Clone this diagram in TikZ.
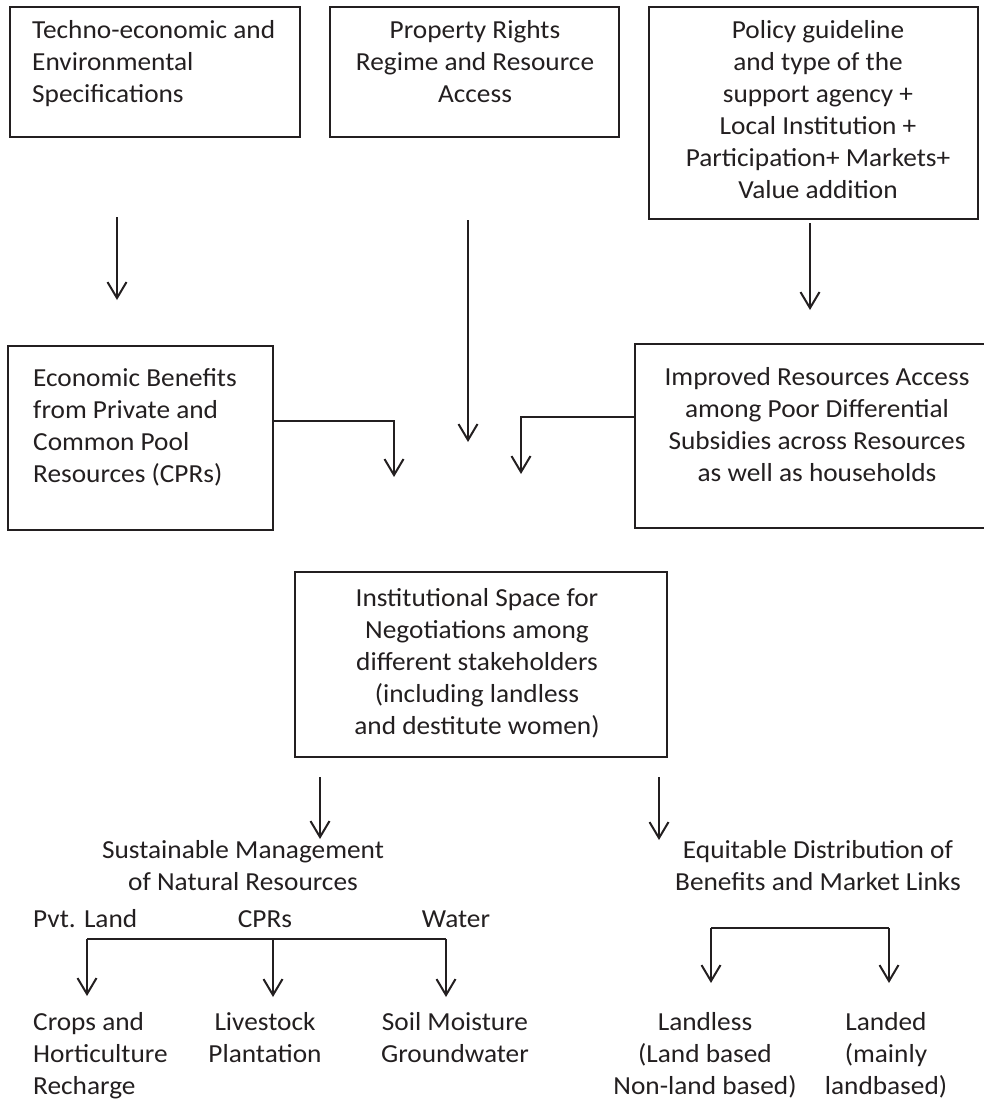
\documentclass[tikz,border=0pt]{standalone}
\usepackage{fontspec}
\setmainfont{Carlito}[FakeStretch=1.05]
\usetikzlibrary{arrows.meta}
\definecolor{ink}{HTML}{231F20}
\begin{document}
\begin{tikzpicture}[x=1pt,y=-1pt,
  box/.style={draw=ink, line width=2.4pt, inner sep=0, rectangle},
  txt/.style={text=ink, inner sep=0, font=\fontsize{26}{32}\selectfont, execute at begin node=\strut},
  ctxt/.style={txt, align=center, anchor=north},
  ltxt/.style={txt, align=left, anchor=north west},
  link/.style={draw=ink, line width=2pt},
  arr/.style={link, -{Straight Barb[length=16pt,width=19pt]}}]
\useasboundingbox (0,0) rectangle (984,1106);

% boxes
\node[box, minimum width=290, minimum height=130] (b1) at (155,72) {};
\node[box, minimum width=289, minimum height=130] (b2) at (474.5,72) {};
\node[box, minimum width=329, minimum height=212] (b3) at (813.5,113) {};
\node[box, minimum width=265, minimum height=184] (b4) at (140.5,438) {};
\node[box, minimum width=351, minimum height=184] (b5) at (810.5,436) {};
\node[box, minimum width=372, minimum height=185] (b6) at (481,664.5) {};

% box texts
\node[ltxt] (t1) at (32,20.6) {Techno-economic and\\Environmental\\Specifications};
\node[ctxt] (t2) at (475,20.6) {Property Rights\\Regime and Resource\\Access};
\node[ctxt] (t3) at (818,20.6) {Policy guideline\\and type of the\\support agency +\\Local Institution +\\Participation+ Markets+\\Value addition};
\node[ltxt] (t4) at (33,368.6) {Economic Benefits\\from Private and\\Common Pool\\Resources (CPRs)};
\node[ctxt] (t5) at (817,367.6) {Improved Resources Access\\among Poor Differential\\Subsidies across Resources\\as well as households};
\node[ctxt] (t6) at (477,588.6) {Institutional Space for\\Negotiations among\\different stakeholders\\(including landless\\and destitute women)};

% free texts
\node[ctxt] (sm) at (243,840.6) {Sustainable Management\\of Natural Resources};
\node[ltxt] (pl) at (33,904.6) {Pvt. Land};
\node[ctxt] (cp) at (265,904.6) {CPRs};
\node[ctxt] (wa) at (456,904.6) {Water};
\node[ctxt] (ed) at (818,840.6) {Equitable Distribution of\\Benefits and Market Links};
\node[ltxt] (cr) at (33,1012.6) {Crops and\\Horticulture\\Recharge};
\node[ctxt] (lv) at (265,1012.6) {Livestock\\Plantation};
\node[ctxt] (so) at (455,1012.6) {Soil Moisture\\Groundwater};
\node[ctxt] (ll) at (705,1012.6) {Landless\\(Land based\\Non-land based)};
\node[ctxt] (ld) at (886,1012.6) {Landed\\(mainly\\landbased)};

% connector coordinates
\coordinate (a1s) at (117,217); \coordinate (a1e) at (117,300);
\coordinate (a2s) at (468,220); \coordinate (a2e) at (468,442);
\coordinate (a3s) at (810,223); \coordinate (a3e) at (810,310);
\coordinate (a4k) at (394,421); \coordinate (a4e) at (394,477);
\coordinate (a5k) at (521,417); \coordinate (a5e) at (521,474);
\coordinate (a6s) at (320,777); \coordinate (a6e) at (320,839);
\coordinate (a7s) at (659,777); \coordinate (a7e) at (659,840);
\coordinate (j1) at (87,939); \coordinate (j2) at (273,939); \coordinate (j3) at (446,939);
\coordinate (e1) at (87,996); \coordinate (e2) at (273,997); \coordinate (e3) at (446,997);
\coordinate (k1) at (711,928); \coordinate (k2) at (889,928);
\coordinate (f1) at (711,983); \coordinate (f2) at (889,983);

\draw[arr] (a1s) -- (a1e);
\draw[arr] (a2s) -- (a2e);
\draw[arr] (a3s) -- (a3e);
\draw[arr] (b4.east |- a4k) -- (a4k) -- (a4e);
\draw[arr] (b5.west |- a5k) -- (a5k) -- (a5e);
\draw[arr] (a6s) -- (a6e);
\draw[arr] (a7s) -- (a7e);
\draw[link] (j1) -- (j3);
\draw[arr] (j1) -- (e1);
\draw[arr] (j2) -- (e2);
\draw[arr] (j3) -- (e3);
\draw[link] (k1) -- (k2);
\draw[arr] (k1) -- (f1);
\draw[arr] (k2) -- (f2);
\end{tikzpicture}
\end{document}
